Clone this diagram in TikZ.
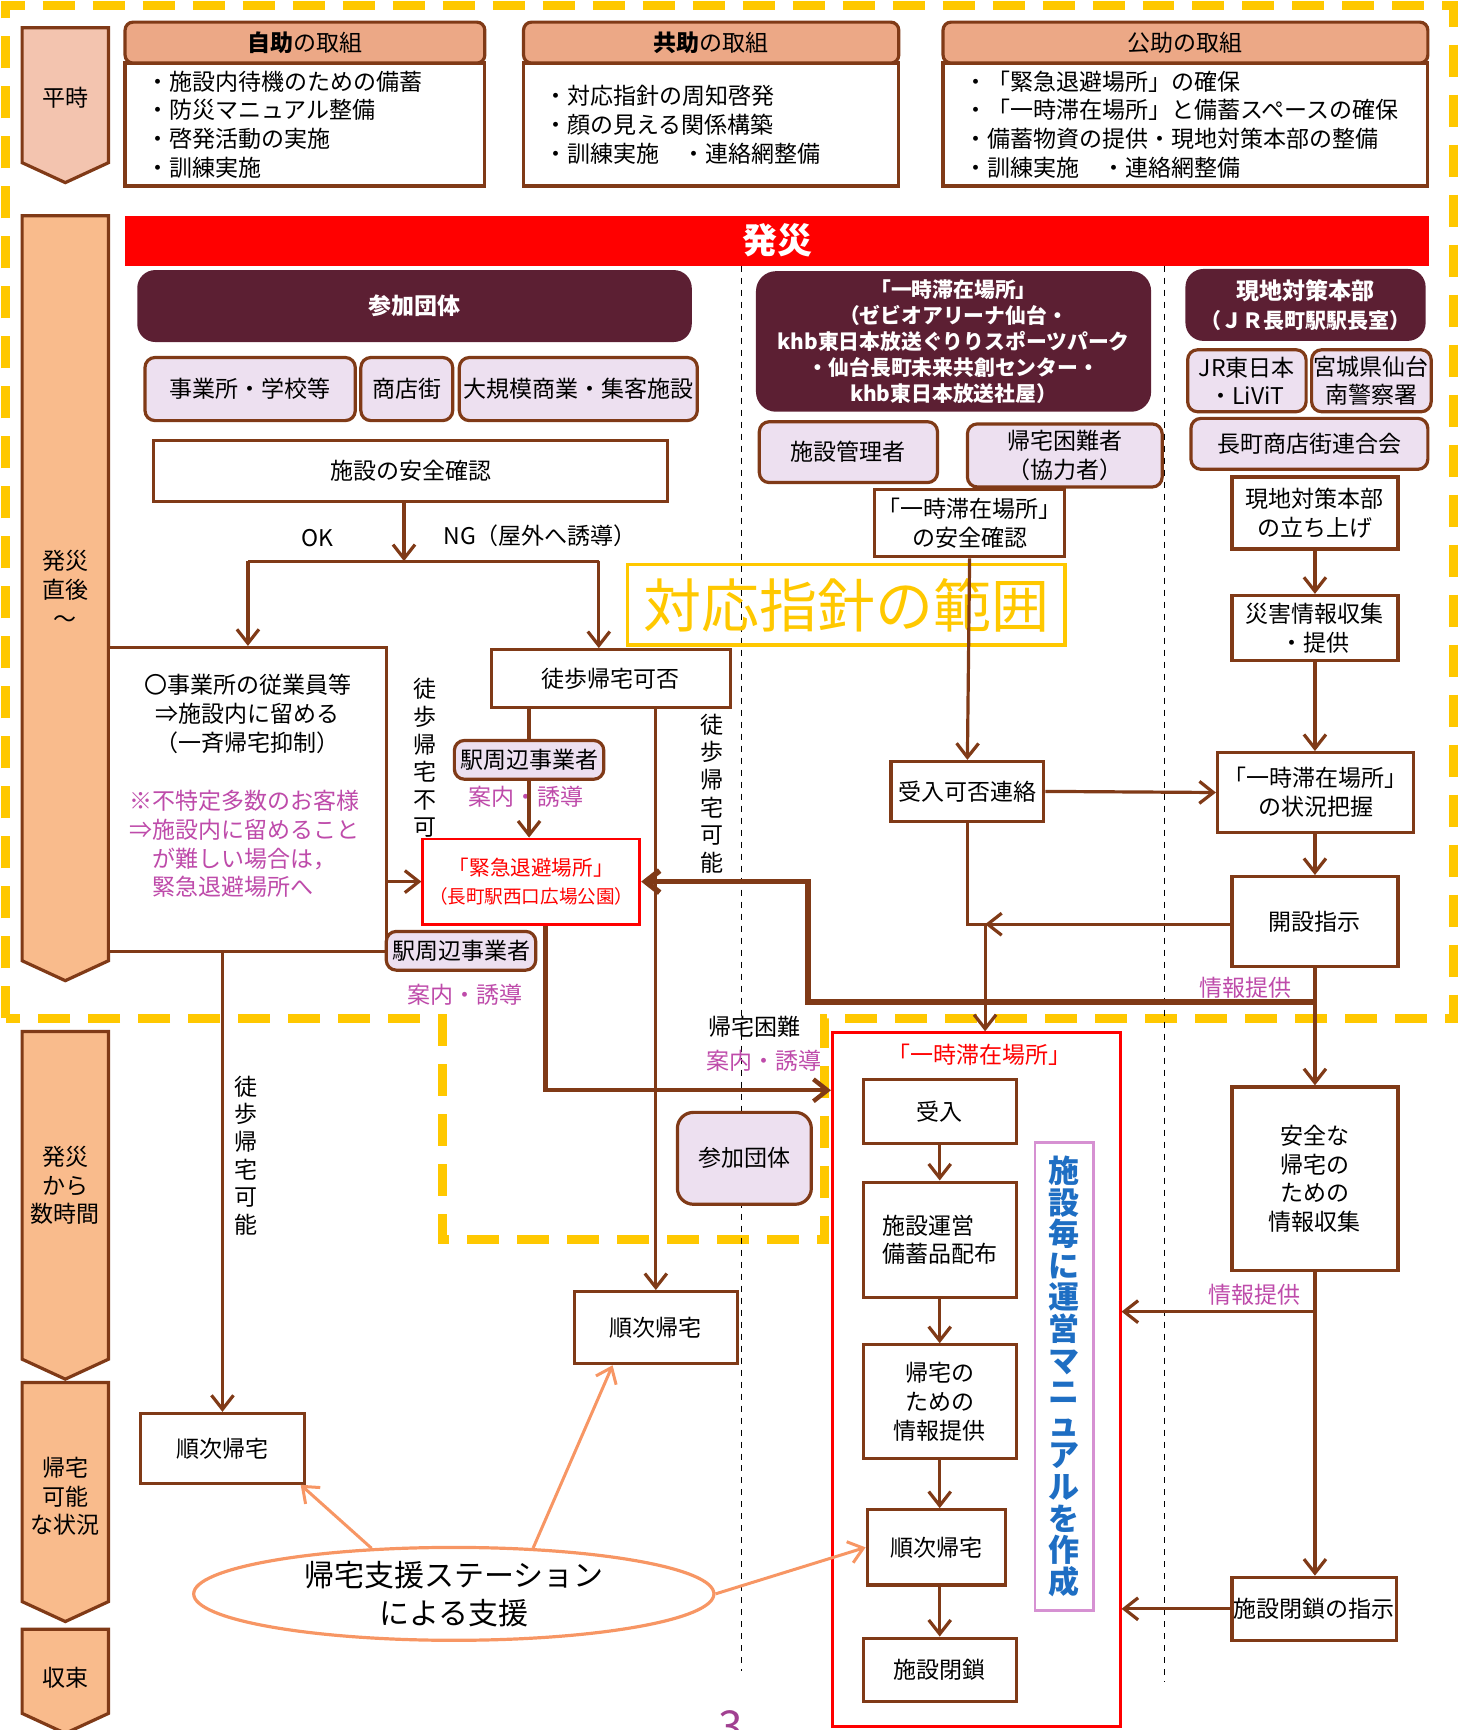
\documentclass[tikz,border=0pt]{standalone}
\usepackage{fontspec}
\setmainfont{Noto Sans CJK JP}
\usetikzlibrary{arrows.meta, shapes.geometric}

\definecolor{brn}{RGB}{128,58,23}
\definecolor{maroon}{RGB}{92,31,51}
\definecolor{lav}{RGB}{237,224,240}
\definecolor{salmon}{RGB}{236,168,134}
\definecolor{peach}{RGB}{249,187,140}
\definecolor{pinkish}{RGB}{243,196,175}
\definecolor{gold}{RGB}{255,200,0}
\definecolor{mag}{RGB}{190,75,170}
\definecolor{orng}{RGB}{247,150,100}
\definecolor{blu}{RGB}{30,110,195}
\definecolor{orchid}{RGB}{214,145,210}

\begin{document}
\begin{tikzpicture}[x=0.5535pt, y=-0.5535pt,
    sz/.style 2 args = {minimum width=#1*0.5535pt, minimum height=#2*0.5535pt},
    base/.style = {inner sep=0pt, align=center, font=\fontsize{11.5}{14.4}\selectfont},
    box/.style = {base, draw=brn, line width=1.6pt, fill=white},
    org/.style = {base, draw=brn, line width=1.6pt, fill=lav, rounded corners=5pt},
    dark/.style = {base, fill=maroon, text=white, rounded corners=9pt, font=\fontsize{11.5}{14.4}\selectfont\bfseries},
    head/.style = {base, draw=brn, line width=1.6pt, fill=salmon, rounded corners=4pt},
    lst/.style = {base, draw=brn, line width=1.6pt, fill=white, align=left, inner xsep=10.5pt},
    phase/.style = {draw=brn, line width=1.6pt, fill=peach},
    lbl/.style = {base, text=mag},
    vert/.style = {base, font=\fontsize{11.5}{13.8}\selectfont},
    conn/.style = {draw=brn, line width=1.6pt},
    arr/.style = {conn, -{Straight Barb[length=7pt,width=11pt]}},
    sup/.style = {draw=orng, line width=1.5pt, -{Straight Barb[length=7pt,width=11pt]}}]

    \useasboundingbox (0,0) rectangle (1325,1563);

    % range of the guideline
    \draw[gold, line width=4.4pt, dash pattern=on 16pt off 9pt]
        (5,920) -- (5,5) -- (1313,5) -- (1313,920) -- (745,920) -- (745,1120) -- (400,1120) -- (400,920) -- cycle;
    \draw[dashed, line width=0.6pt] (670,240) -- (670,1510);
    \draw[dashed, line width=0.6pt] (1052,240) -- (1052,1520);

    % time line
    \draw[phase, fill=pinkish] (20,25) -- (98,25) -- (98,147) -- (59,165) -- (20,147) -- cycle;
    \draw[phase] (20,195) -- (98,195) -- (98,868) -- (59,886) -- (20,868) -- cycle;
    \draw[phase] (20,932) -- (98,932) -- (98,1228) -- (59,1246) -- (20,1228) -- cycle;
    \draw[phase] (20,1249) -- (98,1249) -- (98,1447) -- (59,1465) -- (20,1447) -- cycle;
    \draw[phase] (20,1472) -- (98,1472) -- (98,1548) -- (59,1566) -- (20,1548) -- cycle;
    \node[base] at (59,88) (heiji) {平時};
    \node[base] at (59,532) (chokugo) {発災\\直後\\～};
    \node[base] at (59,1071) (sujikan) {発災\\から\\数時間};
    \node[base] at (59,1352) (kanou) {帰宅\\可能\\な状況};
    \node[base] at (59,1516) (shusoku) {収束};

    % normal time
    \node[lst, sz={325}{111}, text width=158.85pt] at (275.5,112.5) (jijoB) {・施設内待機のための備蓄\\・防災マニュアル整備\\・啓発活動の実施\\・訓練実施};
    \node[head, sz={325}{37}] at (275.5,38.5) (jijoH) {\textbf{自助}の取組};
    \node[lst, sz={339}{111}, text width=166.6pt] at (642.5,112.5) (kyojoB) {・対応指針の周知啓発\\・顔の見える関係構築\\・訓練実施　・連絡網整備};
    \node[head, sz={339}{37}] at (642.5,38.5) (kyojoH) {\textbf{共助}の取組};
    \node[lst, sz={438}{111}, text width=221.4pt] at (1071,112.5) (kojoB) {・「緊急退避場所」の確保\\・「一時滞在場所」と備蓄スペースの確保\\・備蓄物資の提供・現地対策本部の整備\\・訓練実施　・連絡網整備};
    \node[head, sz={438}{37}] at (1071,38.5) (kojoH) {公助の取組};

    \node[base, fill=red, text=white, sz={1178}{45}, font=\fontsize{17.5}{20}\selectfont\bfseries] at (702,217.5) (hassai) {発災};

    \node[base, draw=gold, line width=1.8pt, sz={395}{73}, text=gold, font=\fontsize{29}{30}\selectfont] at (764.5,546.5) (hanni) {対応指針の範囲};

    % participants
    \node[dark, sz={501}{65}] at (374.5,276.5) (sanka) {参加団体};
    \node[org, sz={190}{57}] at (226,351.5) (jigyosho) {事業所・学校等};
    \node[org, sz={83}{57}] at (367.5,351.5) (shotengai) {商店街};
    \node[org, sz={215}{57}] at (522.5,351.5) (daikibo) {大規模商業・集客施設};
    \node[box, sz={464}{55}] at (371,425.5) (anzen) {施設の安全確認};
    \node[base] at (287,486) (ok) {OK};
    \node[base] at (488,484) (ng) {NG（屋外へ誘導）};

    \node[box, sz={251}{275}] at (223.5,722.5) (bigbox) {};
    \node[base] at (224,645) (staff) {〇事業所の従業員等\\⇒施設内に留める\\（一斉帰宅抑制）};
    \node[lbl, align=left, anchor=west] at (117,762.5) (guest) {※不特定多数のお客様\\⇒施設内に留めること\\　が難しい場合は，\\　緊急退避場所へ};
    \node[vert] at (384,685) (tohofuka) {徒\\歩\\帰\\宅\\不\\可};

    \node[box, sz={216}{52}] at (552,613) (tohoka) {徒歩帰宅可否};
    \node[org, sz={135}{35}] at (478,686.5) (eki1) {駅周辺事業者};
    \node[lbl] at (475,720) (annai1) {案内・誘導};
    \node[base, draw=red, line width=1.4pt, fill=white, sz={196}{77}, text=red] at (480,796.5) (kinkyu) {{\fontsize{10.3}{14.4}\selectfont「緊急退避場所」}\\{\fontsize{9.3}{14.4}\selectfont（長町駅西口広場公園）}};
    \node[vert] at (643,717) (tohoka2) {徒\\歩\\帰\\宅\\可\\能};
    \node[org, sz={135}{35}] at (416.5,859) (eki2) {駅周辺事業者};
    \node[lbl] at (420,899) (annai2) {案内・誘導};
    \node[base] at (682,928) (konnan) {帰宅困難};
    \node[lbl] at (690,958) (annai3) {案内・誘導};

    \node[vert] at (222,1044) (tohoka3) {徒\\歩\\帰\\宅\\可\\能};
    \node[org, sz={121}{83}, rounded corners=8pt] at (672.5,1046.5) (sanka2) {参加団体};
    \node[box, sz={148}{63}] at (201,1308.5) (jun1) {順次帰宅};
    \node[box, sz={147}{65}] at (592.5,1199.5) (jun2) {順次帰宅};
    \node[ellipse, draw=orng, line width=1.6pt, base, sz={470}{82}, font=\fontsize{15}{19}\selectfont] at (410,1440) (station) {帰宅支援ステーション\\による支援};

    % temporary stay
    \node[dark, sz={357}{127}, rounded corners=10pt, font=\fontsize{10.4}{13}\selectfont\bfseries] at (861.5,308.5) (ichiji) {「一時滞在場所」\\（ゼビオアリーナ仙台・\\khb東日本放送ぐりりスポーツパーク\\・仙台長町未来共創センター・\\khb東日本放送社屋）};
    \node[org, sz={161}{55}] at (766.5,408.5) (kanrisha) {施設管理者};
    \node[org, sz={176}{57}] at (962,411.5) (kitaku) {帰宅困難者\\（協力者）};
    \node[box, sz={172}{61}] at (876,472.5) (ichijianzen) {「一時滞在場所」\\の安全確認};
    \node[box, sz={138}{54}] at (874,715) (kahi) {受入可否連絡};

    \node[base, draw=red, line width=1.4pt, sz={260}{627}] at (882,1246.5) (ichijibox) {};
    \node[base, text=red] at (885,953) (ichijititle) {「一時滞在場所」};
    \node[box, sz={138}{58}] at (849,1004) (ukeire) {受入};
    \node[box, sz={138}{104}, align=left] at (849,1120) (unei) {施設運営\\備蓄品配布};
    \node[box, sz={138}{103}] at (849,1266.5) (teikyo) {帰宅の\\ための\\情報提供};
    \node[box, sz={125}{68}] at (846,1398) (jun3) {順次帰宅};
    \node[box, sz={138}{57}] at (849,1508.5) (heisa) {施設閉鎖};
    \node[base, draw=orchid, line width=1.4pt, fill=white, sz={53}{423}, text=blu, font=\fontsize{15.5}{15.8}\selectfont\bfseries] at (961.5,1243.5) (manual) {施\\設\\毎\\に\\運\\営\\マ\\ニ\\ュ\\ア\\ル\\を\\作\\成};

    % local headquarters
    \node[dark, sz={217}{65}] at (1179.5,275.5) (honbu) {現地対策本部\\{\fontsize{10.5}{14.4}\selectfont（ＪＲ長町駅駅長室）}};
    \node[org, sz={107}{56}] at (1126.5,344) (jr) {JR東日本\\・LiViT};
    \node[org, sz={108}{56}] at (1239,344) (police) {宮城県仙台\\南警察署};
    \node[org, sz={214}{46}] at (1183,401) (rengo) {長町商店街連合会};
    \node[box, sz={150}{65}] at (1188,463.5) (tachiage) {現地対策本部\\の立ち上げ};
    \node[box, sz={150}{59}] at (1188,567.5) (saigai) {災害情報収集\\・提供};
    \node[box, sz={177}{72}] at (1188.5,716) (jokyo) {「一時滞在場所」\\の状況把握};
    \node[box, sz={150}{81}] at (1188,832.5) (kaisetsu) {開設指示};
    \node[box, sz={150}{166}] at (1188,1065) (anzenkitaku) {安全な\\帰宅の\\ための\\情報収集};
    \node[box, sz={149}{57}] at (1187.5,1453.5) (heisashiji) {施設閉鎖の指示};
    \node[lbl] at (1125,892) (joho1) {情報提供};
    \node[lbl] at (1133,1170) (joho2) {情報提供};

    \node[base, text=mag!85!black, font=\fontsize{22}{24}\selectfont] at (660,1560) (page) {3};

    % connectors
    \coordinate (split) at (365,507);
    \coordinate (okj) at (224,507);
    \coordinate (ngj) at (541,507);
    \coordinate (kd) at (493,985);
    \coordinate (ia) at (1188,905);
    \coordinate (ib) at (730,905);
    \coordinate (mj) at (890,835);
    \coordinate (rj) at (1188,1185);

    \draw[arr] (anzen.south -| split) -- (split);
    \draw[conn] (okj) -- (ngj);
    \draw[arr] (okj) -- (okj |- bigbox.north);
    \draw[arr] (ngj) -- (ngj |- tohoka.north);
    \draw[arr] (bigbox.east |- kinkyu.west) -- (kinkyu.west);
    \draw[conn] (tohoka.south -| eki1.north) -- (eki1.north);
    \draw[arr] (eki1.south) -- (eki1.south |- kinkyu.north);
    \draw[arr] (tohoka.south -| jun2.north) -- (jun2.north);
    \draw[arr] (bigbox.south -| jun1.north) -- (jun1.north);
    \draw[arr, line width=2.2pt] (kinkyu.south -| kd) -- (kd) -- (kd -| ichijibox.west);
    \draw[arr, line width=2.8pt] (ia) -- (ib) -- (ib |- kinkyu.east) -- (kinkyu.east);

    \draw[arr] (ichijianzen.south) -- (kahi.north);
    \draw[arr] (kahi.east) -- (jokyo.west);
    \draw[arr] (kahi.south) |- (mj) -- (mj |- ichijibox.north);
    \draw[arr] (kaisetsu.west |- mj) -- (mj);

    \draw[arr] (ukeire) -- (unei);
    \draw[arr] (unei) -- (teikyo);
    \draw[arr] (teikyo.south) -- (teikyo.south |- jun3.north);
    \draw[arr] (jun3.south -| heisa.north) -- (heisa.north);

    \draw[arr] (tachiage) -- (saigai);
    \draw[arr] (saigai) -- (saigai |- jokyo.north);
    \draw[arr] (jokyo.south -| kaisetsu.north) -- (kaisetsu.north);
    \draw[arr] (kaisetsu) -- (anzenkitaku);
    \draw[arr] (anzenkitaku.south) -- (anzenkitaku.south |- heisashiji.north);
    \draw[arr] (rj) -- (rj -| ichijibox.east);
    \draw[arr] (heisashiji.west) -- (heisashiji.west -| ichijibox.east);

    \draw[sup] (station.151.5) -- (jun1.-25);
    \draw[sup] (station.30) -- (jun2.221);
    \draw[sup] (station.east) -- (jun3.west);
\end{tikzpicture}
\end{document}
